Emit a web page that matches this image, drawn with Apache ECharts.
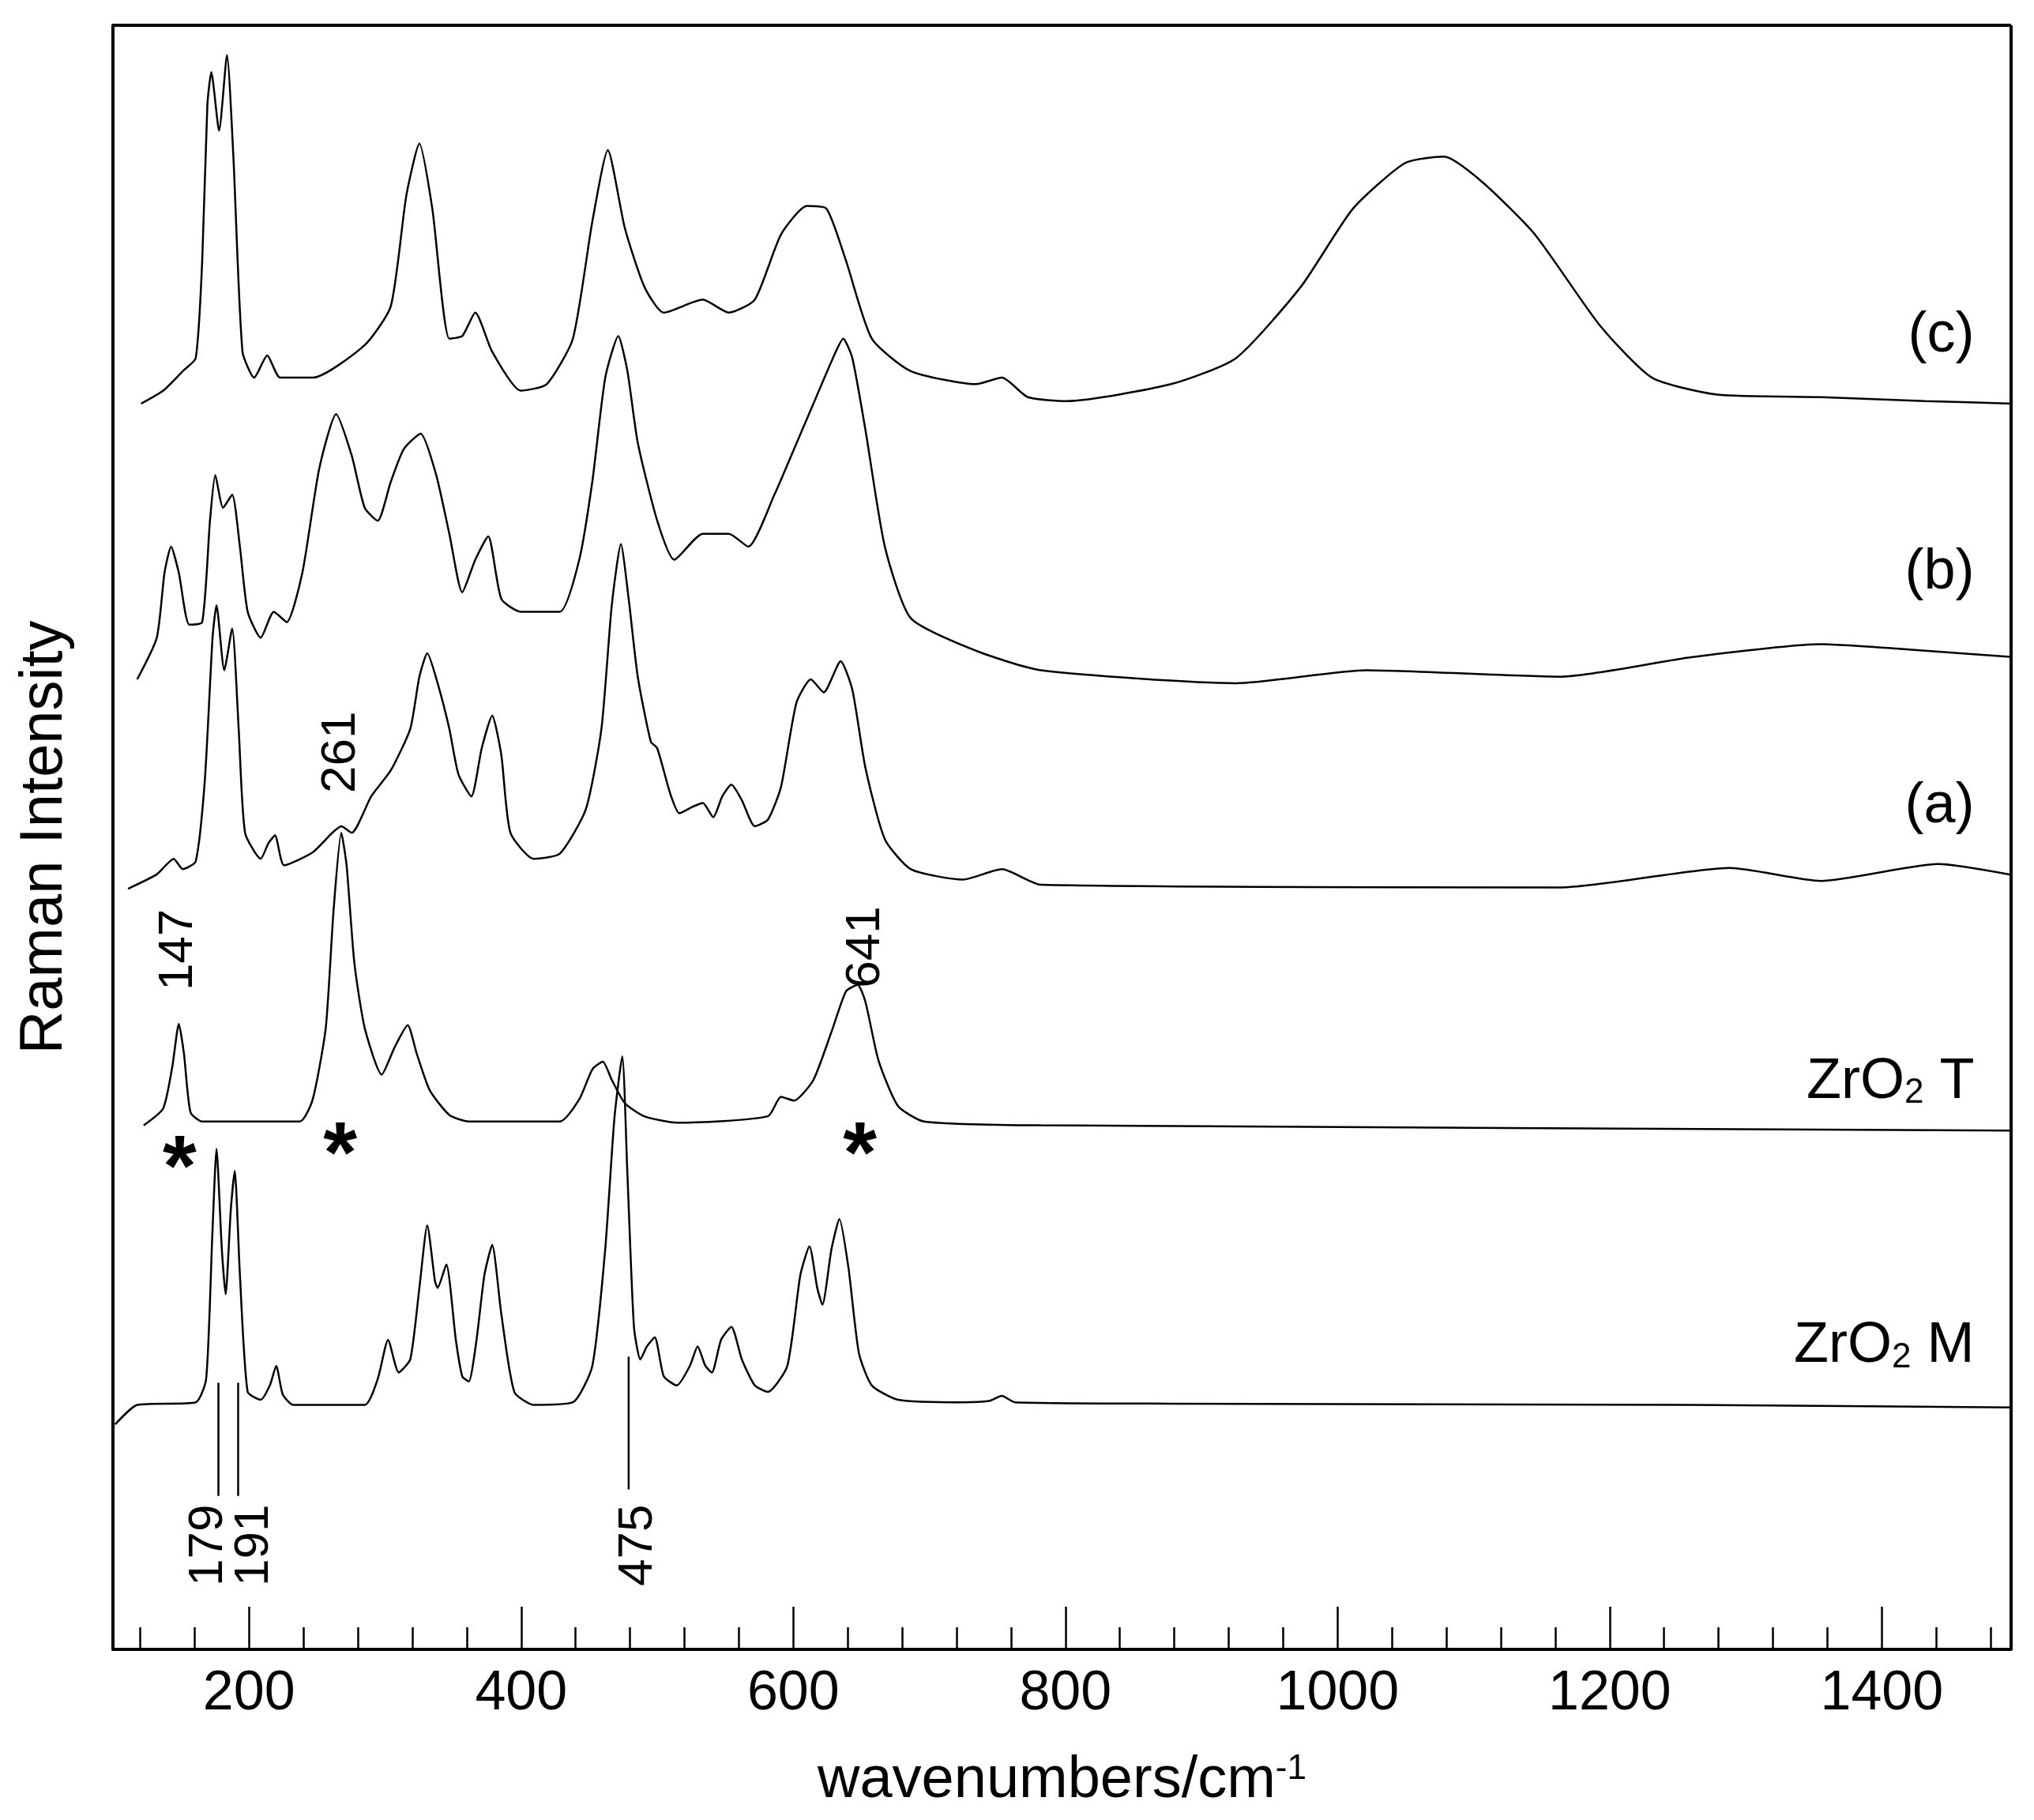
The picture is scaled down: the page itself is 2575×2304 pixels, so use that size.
<!DOCTYPE html>
<html>
<head>
<meta charset="utf-8">
<script src="https://cdn.jsdelivr.net/npm/echarts@6/dist/echarts.min.js"></script>
<style>
  html, body { margin: 0; padding: 0; background: #fff; }
  #chart { width: 2575px; height: 2304px; }
</style>
</head>
<body>
<div id="chart"></div>
<script>
// spectra: [wavenumber, offset intensity]
const traceM = [[101.6,173],[117.8,188],[160.8,190],[168.5,208],[173,318],[176.1,385],[180,308],[182.8,273],[186.6,338],[189.5,368],[193.3,288],[199,198],[208.6,192],[215.3,203],[220,218],[224.8,196],[232.5,188],[285,188],[294.6,208],[302.2,238],[310,213],[318.5,223],[325.2,278],[331,326],[336.7,283],[338.6,278],[345,296],[352,238],[356.7,210],[361.5,206],[367.2,238],[373,288],[378.7,311],[385.4,258],[395,198],[409.3,188],[438,190],[452.3,218],[461.8,308],[468.5,408],[474.3,456],[478,368],[482.9,248],[487.6,223],[492.4,233],[498.2,240],[504.8,210],[514.4,203],[524,218],[529.7,233],[535.4,218],[540.2,213],[546.9,238],[554.5,248],[562.2,223],[571.7,203],[581.3,198],[595.6,218],[605.2,288],[611.9,310],[617.6,278],[621.4,265],[628.1,308],[633.9,331],[640.6,293],[648.2,228],[657.7,203],[676.9,192],[724.6,190],[743.7,191],[753.3,195],[762.9,190],[877.5,189],[1259.8,188],[1498.7,186]];
const traceT = [[122.6,403],[136.9,416],[143.6,448],[148.4,481],[152.2,458],[157,413],[165.6,406],[237.3,406],[246.8,423],[256.4,478],[262.1,568],[267.8,628],[271.7,603],[277.4,528],[285,478],[297.5,442],[307,463],[316.6,480],[323.3,458],[332.8,430],[347.2,411],[361.5,406],[428.4,406],[442.7,423],[452.3,446],[460,452],[466.6,438],[476.2,420],[490.5,410],[514.4,405],[581.3,410],[590.9,425],[600.5,422],[614.8,438],[629.1,478],[638.7,506],[647.3,511],[653,498],[662.6,453],[676.9,418],[696,406],[782,403],[1498.7,399]];
const traceA = [[111.1,585],[132.2,596],[144.6,608],[151.3,600],[160.8,606],[167.5,668],[173.2,778],[176.1,803],[181.8,753],[187.6,785],[192.4,708],[197.1,628],[208.6,608],[214.3,620],[219.1,626],[225.8,603],[246.8,613],[261.2,628],[267.8,633],[275.5,628],[289.8,656],[304.2,676],[318.5,708],[325.2,748],[331,766],[338.6,743],[347.2,708],[353.9,673],[363.4,656],[371,693],[378.7,718],[385.4,688],[392.1,628],[409.3,608],[428.4,612],[447.5,646],[459,708],[466.6,803],[473.3,850],[479,808],[485.7,748],[495.3,698],[500,693],[509.6,658],[516.3,643],[525.9,648],[533.5,651],[541.2,640],[547.8,656],[554.5,665],[562.2,653],[571.7,633],[581.3,638],[590.9,663],[602.3,728],[612.9,746],[622.4,736],[634.8,760],[643.4,738],[653,678],[667.3,623],[686.4,600],[724.6,592],[753.3,600],[782,588],[1164.2,586],[1288.4,601],[1355.3,591],[1441.3,604],[1498.7,595]];
const traceB = [[117.8,746],[132.2,778],[137.9,828],[142.7,848],[148.4,828],[156.1,788],[165.6,790],[171.3,868],[175.2,903],[180.9,878],[187.6,888],[193.3,848],[199,798],[208.6,778],[218.2,798],[227.7,790],[239.2,828],[251.6,908],[264,950],[275.5,918],[285,878],[294.6,868],[304.2,898],[313.7,923],[326.1,935],[337.6,903],[347.2,858],[356.7,813],[366.3,838],[375.8,856],[385.4,808],[399.7,798],[428.4,798],[442.7,838],[452.3,898],[461.8,978],[471.4,1010],[478.1,983],[485.7,928],[500,868],[512.5,838],[533.5,858],[552.6,858],[566.9,848],[586.1,888],[600.5,923],[614.8,958],[629.1,993],[636.7,1008],[643.4,993],[653,938],[667.3,848],[686.4,793],[734.2,768],[782,753],[925.3,743],[1020.9,753],[1164.2,748],[1259.8,763],[1355.3,773],[1431.8,768],[1498.7,763]];
const traceC = [[120.7,958],[136.9,968],[151.3,983],[160.8,993],[165.6,1068],[169.4,1188],[172.3,1213],[178,1168],[183.8,1226],[188.5,1148],[195.2,998],[203.8,978],[213.4,995],[222.9,978],[246.8,978],[285,1003],[304.2,1033],[315.6,1118],[325.2,1158],[334.7,1108],[347.2,1008],[356.7,1010],[366.3,1028],[378.7,998],[399.7,968],[418.8,973],[438,1008],[452.3,1098],[463.7,1153],[476.2,1093],[490.5,1048],[504.8,1028],[533.5,1038],[552.6,1028],[571.7,1038],[590.9,1088],[610,1110],[624.3,1108],[638.7,1068],[657.7,1008],[686.4,983],[734.2,973],[753.3,978],[772.4,963],[801.1,960],[877.5,973],[925.3,993],[973.1,1048],[1011.3,1108],[1049.5,1143],[1078.2,1148],[1106.9,1128],[1145.1,1088],[1192.9,1018],[1231.1,978],[1278.9,965],[1355.3,963],[1431.8,960],[1498.7,958]];

// reference marker lines under ZrO2 M
const markerLines = [
  [[177.5, 205], [177.5, 118]],
  [[192, 205], [192, 118]],
  [[479, 225], [479, 123]]
];

// annotations: [text, wavenumber, intensity, rotation]
const peakLabels = [
  ['179', 170, 80, 90], ['191', 204, 80, 90], ['475', 486, 80, 90],
  ['147', 148, 538, 90], ['261', 268, 690, 90], ['641', 653, 540, 90]
];
const starMarks = [[149, 368], [267, 378], [649, 378]];
const traceNames = [
  ['(c)', 1010], ['(b)', 828], ['(a)', 648], ['ZrO{s|2} T', 436], ['ZrO{s|2} M', 233]
];

const FONT = '"Liberation Sans Narrow", "Liberation Sans", Arial, sans-serif';
const chart = echarts.init(document.getElementById('chart'));

const lineSeries = [traceM, traceT, traceA, traceB, traceC].map(d => ({
  type: 'line',
  data: d,
  showSymbol: false,
  smooth: 0.2,
  lineStyle: { color: '#000', width: 2.5 },
  animation: false
}));

const markSeries = markerLines.map(d => ({
  type: 'line',
  data: d,
  showSymbol: false,
  lineStyle: { color: '#000', width: 2.5 },
  animation: false
}));

chart.setOption({
  backgroundColor: '#fff',
  animation: false,
  grid: { left: 143, right: 29, top: 32, bottom: 216, containLabel: false, outerBoundsMode: 'none' },
  xAxis: {
    type: 'value',
    min: 100,
    max: 1495,
    splitNumber: 7,
    minInterval: 200,
    maxInterval: 200,
    axisLine: { lineStyle: { color: '#000', width: 4 } },
    axisTick: { inside: true, length: 54, lineStyle: { color: '#000', width: 2.5 } },
    minorTick: { show: true, splitNumber: 5, length: 28, lineStyle: { color: '#000', width: 2.5 } },
    axisLabel: {
      color: '#000', fontSize: 70, fontFamily: FONT, margin: 22,
      showMinLabel: false, showMaxLabel: false,
      formatter: v => String(v)
    },
    splitLine: { show: false },
    name: 'wavenumbers/cm{sup|-1}',
    nameLocation: 'middle',
    nameGap: 130,
    nameTextStyle: {
      color: '#000', fontSize: 74, fontFamily: FONT,
      rich: { sup: { fontSize: 44, verticalAlign: 'top', padding: [0, 0, 30, 0], fontFamily: FONT, color: '#000' } }
    }
  },
  yAxis: {
    type: 'value',
    min: 0,
    max: 1249,
    axisLine: { show: true, lineStyle: { color: '#000', width: 4 } },
    axisTick: { show: false },
    axisLabel: { show: false },
    splitLine: { show: false },
    name: 'Raman Intensity',
    nameLocation: 'middle',
    nameGap: 48,
    nameTextStyle: { color: '#000', fontSize: 76, fontFamily: FONT }
  },
  series: lineSeries.concat(markSeries)
});

// texts placed at data positions
const px = (w, v) => chart.convertToPixel({ gridIndex: 0 }, [w, v]);
const graphics = [
  // top and right frame lines
  { type: 'line', shape: { x1: 143, y1: 32, x2: 2546, y2: 32 }, style: { stroke: '#000', lineWidth: 4 } },
  { type: 'line', shape: { x1: 2546, y1: 32, x2: 2546, y2: 2088 }, style: { stroke: '#000', lineWidth: 4 } }
];
peakLabels.forEach(([t, w, v, r]) => {
  const p = px(w, v);
  graphics.push({
    type: 'text', x: p[0], y: p[1], rotation: r * Math.PI / 180,
    style: { text: t, fill: '#000', font: '62px ' + FONT, align: 'center', verticalAlign: 'middle' }
  });
});
starMarks.forEach(([w, v]) => {
  const p = px(w, v);
  graphics.push({
    type: 'text', x: p[0], y: p[1],
    style: { text: '*', fill: '#000', font: 'bold 110px "Liberation Sans", Arial, sans-serif', align: 'center', verticalAlign: 'middle' }
  });
});
traceNames.forEach(([t, v]) => {
  const p = px(1468, v);
  graphics.push({
    type: 'text', x: p[0], y: p[1],
    style: {
      text: t, fill: '#000', font: '72px ' + FONT, align: 'right', verticalAlign: 'middle',
      rich: {
        s: { fontSize: 44, fontFamily: FONT, fill: '#000', verticalAlign: 'bottom', padding: [28, 0, 0, 0] }
      }
    }
  });
});
chart.setOption({ graphic: graphics });
</script>
</body>
</html>
